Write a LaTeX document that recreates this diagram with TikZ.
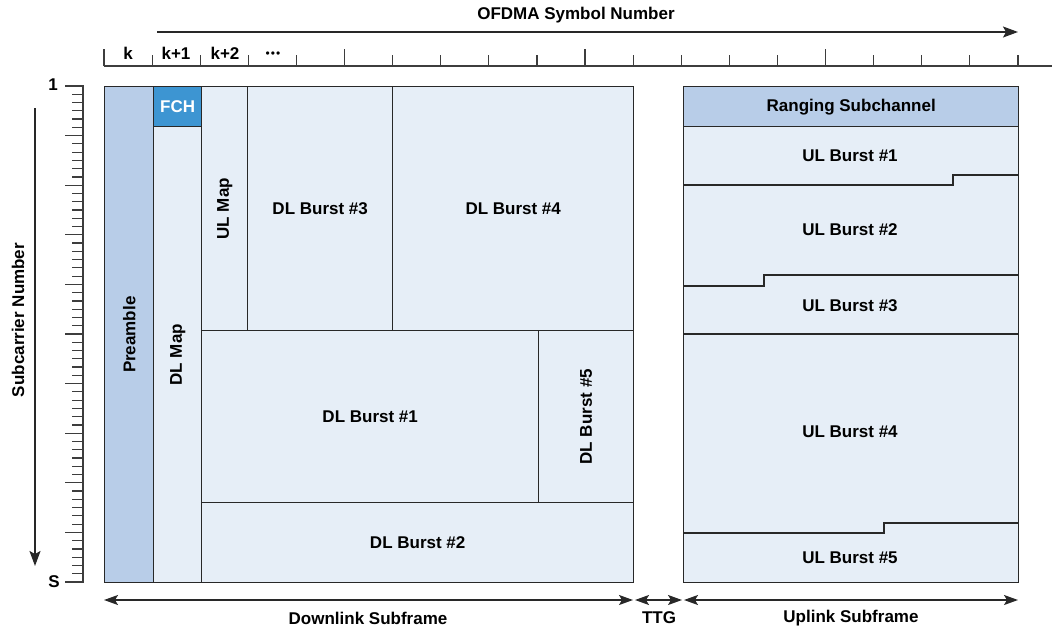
\documentclass[tikz,border=0pt]{standalone}
\usepackage{fontspec}
\setmainfont{Liberation Sans}
\usetikzlibrary{arrows.meta}
\definecolor{preblue}{RGB}{184,205,232}
\definecolor{cellblue}{RGB}{230,238,247}
\definecolor{fchblue}{RGB}{61,149,210}
\definecolor{edgecol}{RGB}{40,40,40}
\newcommand{\labfont}{\fontsize{17}{19}\selectfont\bfseries}
\begin{document}
\begin{tikzpicture}[x=1pt,y=-1pt,
  cell/.style={draw=edgecol, line width=1.4pt, fill=cellblue, inner sep=0pt, anchor=north west, font=\labfont},
  lab/.style={font=\labfont, inner sep=0pt},
  edgeline/.style={draw=edgecol, line width=1.4pt},
  tickline/.style={draw=edgecol!90, line width=1.2pt},
  arr/.style={edgeline, -{Stealth[length=15pt,width=11pt,inset=3pt]}},
  darr/.style={edgeline, {Stealth[length=14pt,width=10pt,inset=3pt]}-{Stealth[length=14pt,width=10pt,inset=3pt]}}]
\useasboundingbox (0,0) rectangle (1055,630);
% ---- top axis
\node[lab] (ofdma) at (576,15) {OFDMA Symbol Number};
\coordinate (ta) at (157,32);
\coordinate (tb) at (1018,32);
\draw[arr] (ta) -- (tb);
\draw[tickline, line width=1.4pt] (104,66) -- (1052,66);
\foreach \i in {0,...,19} {
  \draw[tickline] ({104+48.1*\i},66) -- ({104+48.1*\i},55);
}
\foreach \i in {0,5,10,15} {
  \draw[tickline] ({104+48.1*\i},66) -- ({104+48.1*\i},49);
}
\node[lab] (lk) at (128,53) {k};
\node[lab] (lk1) at (176,53) {k+1};
\node[lab] (lk2) at (225,53) {k+2};
\node[lab, font=\fontsize{12}{12}\selectfont] (ldots) at (273,55) {•\kern1pt•\kern1pt•};
% ---- left axis
\node[lab, rotate=90] (subc) at (18,320) {Subcarrier Number};
\coordinate (la) at (35,108);
\coordinate (lb) at (35,566);
\draw[arr] (la) -- (lb);
\draw[tickline, line width=1.4pt] (83,86) -- (83,582);
\foreach \j in {0,...,60} {
  \draw[tickline] (83.7,{86+8.26667*\j}) -- (72,{86+8.26667*\j});
}
\foreach \j in {0,...,10} {
  \draw[tickline] (83.7,{86+49.6*\j}) -- (65,{86+49.6*\j});
}
\node[lab] (lone) at (53,85) {1};
\node[lab] (ls) at (54,582) {S};
% ---- downlink subframe
\node[cell, fill=preblue, minimum width=49pt, minimum height=496pt] (pre) at (104,86) {\rotatebox{90}{Preamble}};
\node[cell, fill=fchblue, text=white, minimum width=48pt, minimum height=40pt] (fch) at (153,86) {FCH};
\node[cell, minimum width=48pt, minimum height=456pt] (dlmap) at (153,126) {\rotatebox{90}{DL Map}};
\node[cell, minimum width=46pt, minimum height=244pt] (ulmap) at (201,86) {\rotatebox{90}{UL Map}};
\node[cell, minimum width=145pt, minimum height=244pt] (dl3) at (247,86) {DL Burst \#3};
\node[cell, minimum width=241pt, minimum height=244pt] (dl4) at (392,86) {DL Burst \#4};
\node[cell, minimum width=337pt, minimum height=172pt] (dl1) at (201,330) {DL Burst \#1};
\node[cell, minimum width=95pt, minimum height=172pt] (dl5) at (538,330) {\rotatebox{90}{DL Burst \#5}};
\node[cell, minimum width=432pt, minimum height=80pt] (dl2) at (201,502) {DL Burst \#2};
% ---- uplink subframe
\node[cell, fill=preblue, minimum width=335pt, minimum height=40pt] (rng) at (683,86) {Ranging Subchannel};
\node[cell, minimum width=335pt, minimum height=456pt] (ulf) at (683,126) {};
\draw[edgeline] (683,185) -- (953,185) -- (953,175) -- (1018,175);
\draw[edgeline] (683,286) -- (764,286) -- (764,275) -- (1018,275);
\draw[edgeline] (683,334) -- (1018,334);
\draw[edgeline] (683,533) -- (884,533) -- (884,523) -- (1018,523);
\node[lab] (ul1) at (850,156) {UL Burst \#1};
\node[lab] (ul2) at (850,230) {UL Burst \#2};
\node[lab] (ul3) at (850,306) {UL Burst \#3};
\node[lab] (ul4) at (850,432) {UL Burst \#4};
\node[lab] (ul5) at (850,558) {UL Burst \#5};
% ---- bottom arrows
\coordinate (d1) at (104,600);
\coordinate (d2) at (633,600);
\coordinate (t1) at (635,600);
\coordinate (t2) at (682,600);
\coordinate (u1) at (684,600);
\coordinate (u2) at (1018,600);
\draw[darr] (d1) -- (d2);
\draw[darr] (t1) -- (t2);
\draw[darr] (u1) -- (u2);
\node[lab] (dls) at (368,618) {Downlink Subframe};
\node[lab] (ttg) at (659,618) {TTG};
\node[lab] (uls) at (851,618) {Uplink Subframe};
\end{tikzpicture}
\end{document}
